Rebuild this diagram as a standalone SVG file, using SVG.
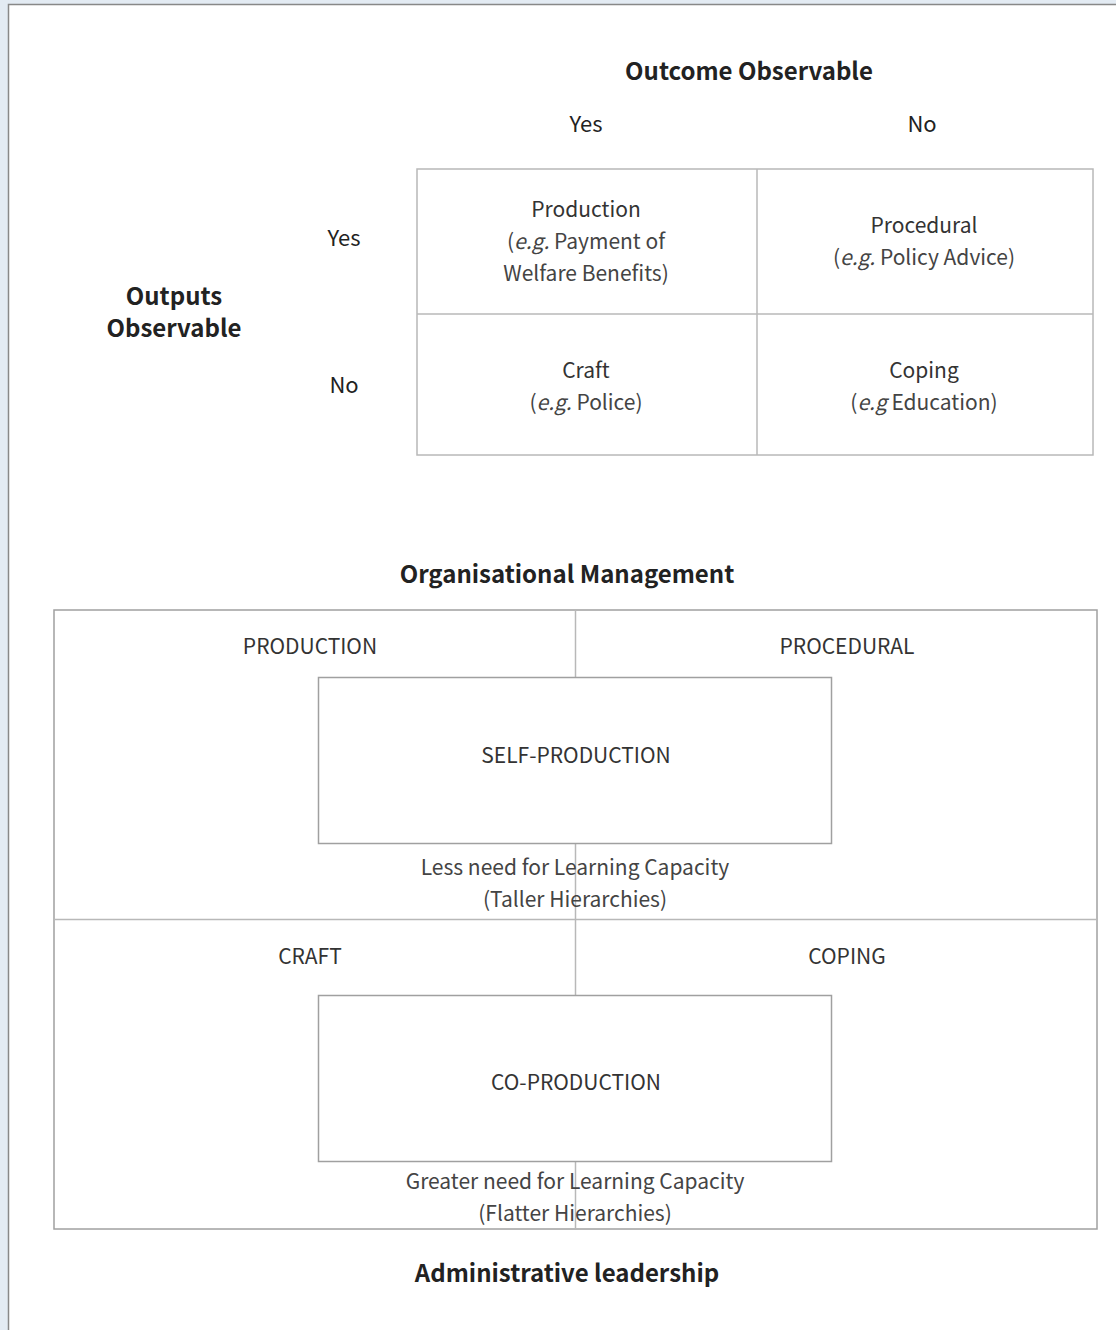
<svg xmlns="http://www.w3.org/2000/svg" width="1116" height="1330" viewBox="0 0 1116 1330">
<style>
text{font-family:"Noto Sans CJK KR","Noto Sans",sans-serif;text-anchor:middle;fill:#222}
.h{font-weight:bold;font-size:24px}
.l{font-size:22px}
.c{font-size:21px;fill:#333}
.s{font-size:21px;fill:#444}
.i{font-style:italic}
.tb{fill:none;stroke:#b8b8b8;stroke-width:1.5}
.bx{fill:none;stroke:#a0a0a0;stroke-width:1.5}
</style>
<rect x="0" y="0" width="1116" height="1330" fill="#e3ebf3"/>
<rect x="9" y="5" width="1107" height="1325" fill="#fff"/>
<path d="M8.5 1330 V4.5 H1116" fill="none" stroke="#888" stroke-width="1.5"/>
<g id="axis-labels">
<text class="h" x="749" y="80">Outcome Observable</text>
<text class="l" x="586" y="132">Yes</text>
<text class="l" x="922" y="132">No</text>
<text class="h" x="174" y="305">Outputs</text>
<text class="h" x="174" y="337">Observable</text>
<text class="l" x="344" y="246">Yes</text>
<text class="l" x="344" y="393">No</text>
</g>
<g id="matrix">
<rect class="tb" x="417" y="169" width="676" height="286"/>
<line class="tb" x1="757" y1="169" x2="757" y2="455"/>
<line class="tb" x1="417" y1="314" x2="1093" y2="314"/>
</g>
<g id="cell-production">
<text class="c" x="586" y="217">Production</text>
<text class="s" x="586" y="249">(<tspan class="i">e.g.</tspan> Payment of</text>
<text class="s" x="586" y="281">Welfare Benefits)</text>
</g>
<g id="cell-procedural">
<text class="c" x="924" y="233">Procedural</text>
<text class="s" x="924" y="265">(<tspan class="i">e.g.</tspan> Policy Advice)</text>
</g>
<g id="cell-craft">
<text class="c" x="586" y="378">Craft</text>
<text class="s" x="586" y="410">(<tspan class="i">e.g.</tspan> Police)</text>
</g>
<g id="cell-coping">
<text class="c" x="924" y="378">Coping</text>
<text class="s" x="924" y="410">(<tspan class="i">e.g</tspan> Education)</text>
</g>
<text class="h" x="567" y="583">Organisational Management</text>
<g id="connectors">
<rect class="bx" x="54" y="610" width="1043" height="619"/>
<line class="tb" x1="54" y1="919.5" x2="1097" y2="919.5"/>
<line class="tb" x1="575.5" y1="610" x2="575.5" y2="677"/>
<line class="tb" x1="575.5" y1="843" x2="575.5" y2="995"/>
<line class="tb" x1="575.5" y1="1162" x2="575.5" y2="1229"/>
</g>
<g id="quadrant-labels">
<text class="c" x="310" y="654">PRODUCTION</text>
<text class="c" x="847" y="654">PROCEDURAL</text>
<text class="c" x="310" y="964">CRAFT</text>
<text class="c" x="847" y="964">COPING</text>
</g>
<g id="self-production">
<rect class="bx" x="318.5" y="677.5" width="513" height="166" fill="#fff"/>
<text class="c" x="576" y="763">SELF-PRODUCTION</text>
</g>
<g id="self-note">
<text class="s" x="575" y="875">Less need for Learning Capacity</text>
<text class="s" x="575" y="907">(Taller Hierarchies)</text>
</g>
<g id="co-production">
<rect class="bx" x="318.5" y="995.5" width="513" height="166" fill="#fff"/>
<text class="c" x="576" y="1090">CO-PRODUCTION</text>
</g>
<g id="co-note">
<text class="s" x="575" y="1189">Greater need for Learning Capacity</text>
<text class="s" x="575" y="1221">(Flatter Hierarchies)</text>
</g>
<text class="h" x="567" y="1282">Administrative leadership</text>
</svg>
